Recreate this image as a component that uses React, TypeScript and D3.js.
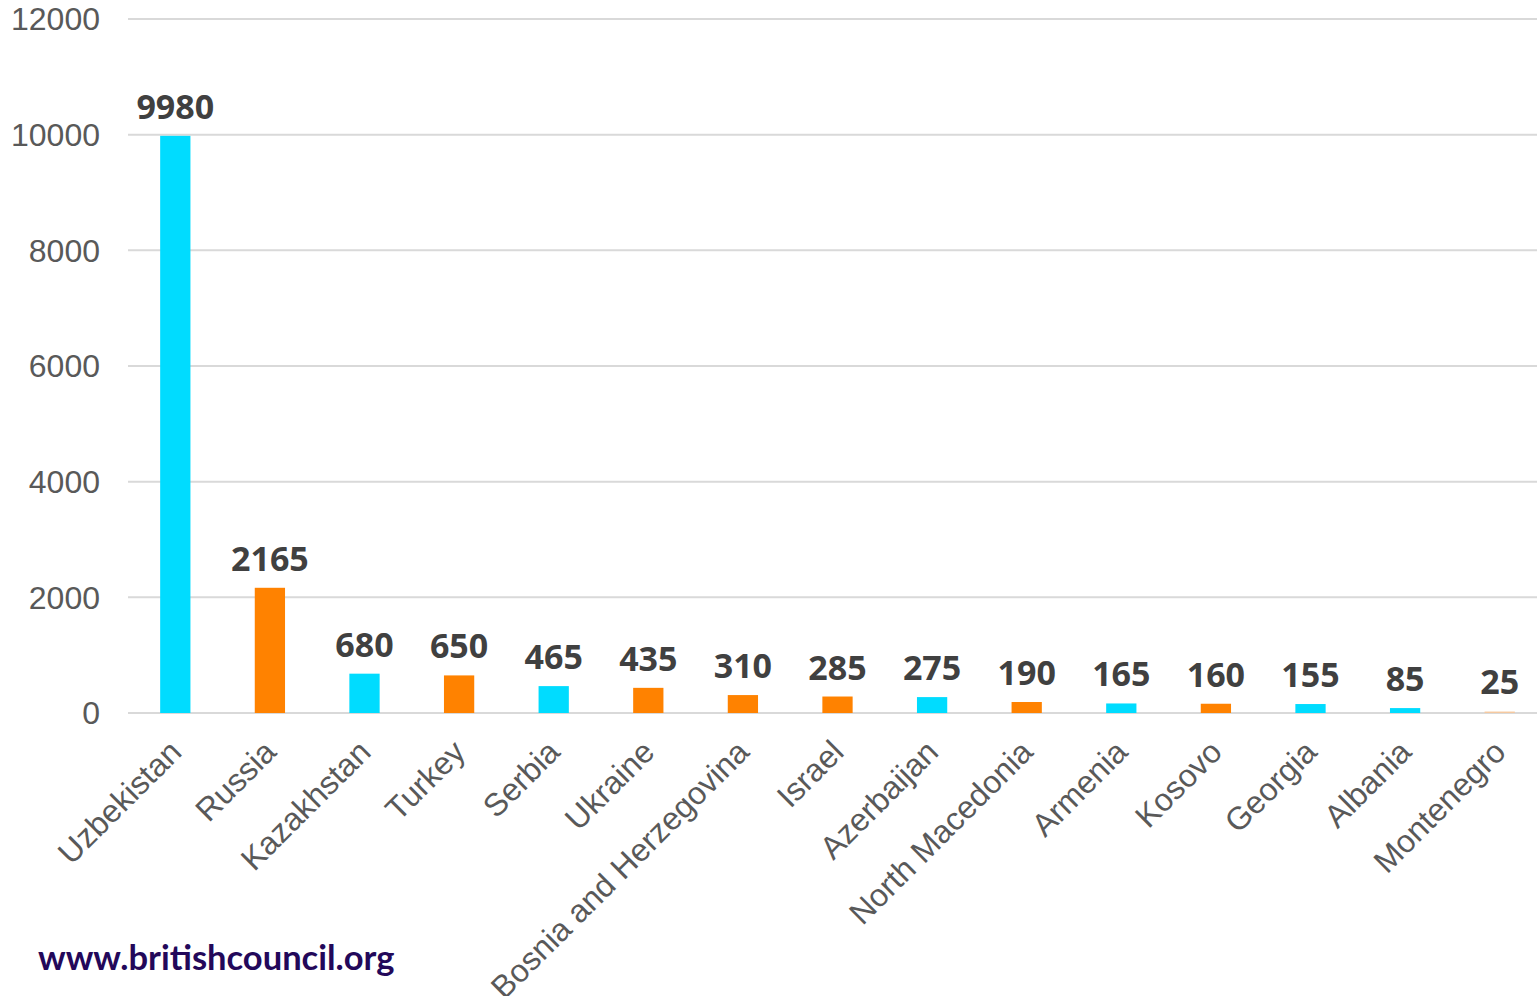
import React, { useEffect, useRef } from "react"
import * as d3 from "d3"

const countries = [
  "Uzbekistan", "Russia", "Kazakhstan", "Turkey", "Serbia", "Ukraine",
  "Bosnia and Herzegovina", "Israel", "Azerbaijan", "North Macedonia",
  "Armenia", "Kosovo", "Georgia", "Albania", "Montenegro",
]
const values = [9980, 2165, 680, 650, 465, 435, 310, 285, 275, 190, 165, 160, 155, 85, 25]
const barColors = [
  "#00dcff", "#ff8200", "#00dcff", "#ff8200", "#00dcff", "#ff8200", "#ff8200", "#ff8200",
  "#00dcff", "#ff8200", "#00dcff", "#ff8200", "#00dcff", "#00dcff", "#f5c9a0",
]
const yTicks = [0, 2000, 4000, 6000, 8000, 10000, 12000]

const width = 1537
const height = 996
const margin = { top: 19, bottom: 283, left: 128 }
const bandRight = 1547

export default function App() {
  const ref = useRef(null)

  useEffect(() => {
    const svg = d3.select(ref.current)
    svg.selectAll("*").remove()

    const x = d3.scaleBand()
      .domain(countries)
      .range([margin.left, bandRight])
      .paddingInner(0.68)
      .paddingOuter(0.34)
    const y = d3.scaleLinear()
      .domain([0, 12000])
      .range([height - margin.bottom, margin.top])

    // gridlines
    svg.append("g")
      .selectAll("line")
      .data(yTicks)
      .join("line")
      .attr("x1", margin.left)
      .attr("x2", width)
      .attr("y1", d => y(d))
      .attr("y2", d => y(d))
      .attr("stroke", "#d9d9d9")
      .attr("stroke-width", 2)

    // y tick labels
    svg.append("g")
      .attr("font-family", "'Liberation Sans', Arial, sans-serif")
      .attr("font-size", 32)
      .attr("fill", "#595959")
      .attr("text-anchor", "end")
      .selectAll("text")
      .data(yTicks)
      .join("text")
      .attr("x", 100)
      .attr("y", d => y(d))
      .attr("dy", "0.35em")
      .text(d => d)

    const idx = d3.range(countries.length)

    // bars
    svg.append("g")
      .selectAll("rect")
      .data(idx)
      .join("rect")
      .attr("x", i => x(countries[i]))
      .attr("y", i => y(values[i]))
      .attr("width", x.bandwidth())
      .attr("height", i => y(0) - y(values[i]))
      .attr("fill", i => barColors[i])

    // value labels
    svg.append("g")
      .attr("font-family", "'Open Sans', 'DejaVu Sans', sans-serif")
      .attr("font-weight", "bold")
      .attr("font-size", 34)
      .attr("fill", "#404040")
      .attr("text-anchor", "middle")
      .selectAll("text")
      .data(idx)
      .join("text")
      .attr("x", i => x(countries[i]) + x.bandwidth() / 2)
      .attr("y", i => Math.min(y(values[i]), y(0) - 2) - 17)
      .text(i => values[i])

    // category labels
    svg.append("g")
      .attr("font-family", "'Liberation Sans', Arial, sans-serif")
      .attr("font-size", 32)
      .attr("fill", "#595959")
      .attr("text-anchor", "end")
      .selectAll("text")
      .data(countries)
      .join("text")
      .attr("transform", d => `translate(${x(d) + x.bandwidth() / 2 + 8},${y(0) + 41}) rotate(-45)`)
      .text(d => d)

    svg.append("text")
      .attr("x", 38)
      .attr("y", 970)
      .attr("font-family", "Lato, 'Open Sans', sans-serif")
      .attr("font-weight", "bold")
      .attr("font-size", 34.5)
      .attr("fill", "#23085a")
      .text("www.britishcouncil.org")
  }, [])

  return (
    <svg ref={ref} width={width} height={height}
      style={{ position: "absolute", left: 0, top: 0, background: "#fff" }} />
  )
}
